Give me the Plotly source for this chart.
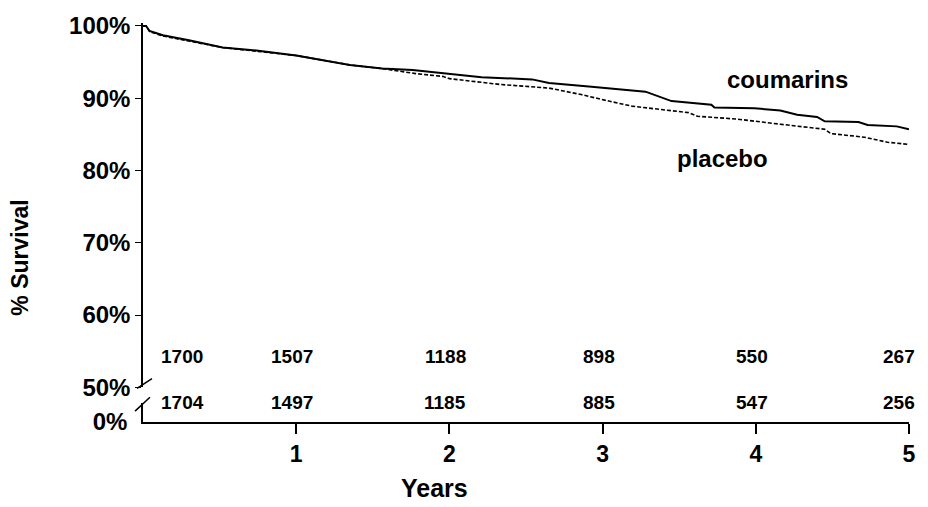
import plotly.graph_objects as go

# Kaplan-Meier survival estimates (years, % surviving)
coumarins_years = [0, 0.02, 0.043, 0.13, 0.30, 0.52, 0.74, 1.00, 1.35, 1.56, 1.76, 1.95,
                   2.21, 2.54, 2.65, 2.91, 3.02, 3.28, 3.45, 3.71, 3.73, 3.99, 4.16,
                   4.27, 4.40, 4.45, 4.67, 4.73, 4.92, 4.97, 5.00]
coumarins_surv = [100, 100, 99.3, 98.7, 98.0, 97.0, 96.6, 95.9, 94.6, 94.1, 93.9, 93.5,
                  92.9, 92.6, 92.1, 91.6, 91.4, 90.9, 89.6, 89.1, 88.7, 88.6, 88.3,
                  87.7, 87.4, 86.8, 86.7, 86.3, 86.1, 85.8, 85.7]

placebo_years = [0, 0.02, 0.043, 0.13, 0.30, 0.52, 0.74, 1.00, 1.35, 1.56, 1.78, 1.96,
                 2.00, 2.33, 2.65, 2.86, 3.02, 3.19, 3.56, 3.62, 3.88, 3.99, 4.16,
                 4.45, 4.49, 4.71, 4.86, 5.00]
placebo_surv = [100, 100, 99.2, 98.6, 97.9, 97.0, 96.5, 95.9, 94.6, 94.1, 93.4, 93.0,
                92.7, 91.9, 91.4, 90.5, 89.7, 88.9, 88.0, 87.5, 87.1, 86.8, 86.4,
                85.7, 85.1, 84.6, 83.9, 83.6]

# Numbers at risk at each yearly time point
risk_years = [0, 1, 2, 3, 4, 5]
at_risk_upper = [1700, 1507, 1188, 898, 550, 267]
at_risk_lower = [1704, 1497, 1185, 885, 547, 256]

y_ticks = [50, 60, 70, 80, 90, 100]
y_tick_text = ["50%", "60%", "70%", "80%", "90%", "100%"]
x_ticks = [1, 2, 3, 4, 5]

FONT = "Liberation Sans, Arial, Helvetica, sans-serif"

fig = go.Figure()
fig.add_trace(go.Scatter(
    x=coumarins_years, y=coumarins_surv, mode="lines", name="coumarins",
    line=dict(color="black", width=2), xaxis="x", yaxis="y",
))
fig.add_trace(go.Scatter(
    x=placebo_years, y=placebo_surv, mode="lines", name="placebo",
    line=dict(color="black", width=1.6, dash="4px,2px"), xaxis="x", yaxis="y",
))

# Broken-axis lower segment carrying only the 0% level
fig.add_trace(go.Scatter(x=[0], y=[0], mode="markers", marker=dict(opacity=0),
                         xaxis="x", yaxis="y2", hoverinfo="skip"))

annotations = []
for row_y, counts in ((0.163, at_risk_upper), (0.0495, at_risk_lower)):
    for i, (yr, n) in enumerate(zip(risk_years, counts)):
        shift = 39 if i == 0 else (-10 if i == len(risk_years) - 1 else -4)
        annotations.append(dict(x=yr, y=row_y, xref="x", yref="paper", text=f"<b>{n}</b>",
                                showarrow=False, xshift=shift, yanchor="middle",
                                font=dict(family=FONT, size=19, color="black")))

annotations += [
    dict(x=4.21, y=92.6, xref="x", yref="y", text="<b>coumarins</b>", showarrow=False,
         font=dict(family=FONT, size=24, color="black")),
    dict(x=3.78, y=81.6, xref="x", yref="y", text="<b>placebo</b>", showarrow=False,
         font=dict(family=FONT, size=24, color="black")),
    dict(x=-0.160, y=0.413, xref="paper", yref="paper", text="<b>% Survival</b>",
         showarrow=False, textangle=-90, xanchor="center", yanchor="middle",
         font=dict(family=FONT, size=23, color="black")),
    dict(x=0.380, y=-0.166, xref="paper", yref="paper", text="<b>Years</b>",
         showarrow=False, xanchor="center", yanchor="middle",
         font=dict(family=FONT, size=25, color="black")),
]

# Slashes marking the axis break between 0% and 50%
shapes = [
    dict(type="line", xref="paper", yref="paper", x0=-0.0078, y0=0.0842, x1=0.0117, y1=0.1089,
         line=dict(color="black", width=1.5)),
    dict(type="line", xref="paper", yref="paper", x0=-0.0104, y0=0.0272, x1=0.0091, y1=0.0619,
         line=dict(color="black", width=1.5)),
]

fig.update_layout(
    width=928, height=507,
    margin=dict(l=143, r=17, t=18, b=85),
    paper_bgcolor="white", plot_bgcolor="white",
    showlegend=False,
    font=dict(family=FONT, color="black"),
    xaxis=dict(
        range=[0, 5], anchor="y2", showgrid=False, zeroline=False,
        showline=True, linecolor="black", linewidth=1.5,
        tickvals=x_ticks, ticks="outside", ticklen=10, tickwidth=1.5, tickcolor="black",
        tickfont=dict(family=FONT, size=23, color="black", weight="bold"),
        ticklabelstandoff=1,
    ),
    yaxis=dict(
        domain=[0.0869, 1], range=[50, 100.4], anchor="x",
        showgrid=False, zeroline=False, showline=True, linecolor="black", linewidth=1.5,
        tickvals=y_ticks, ticktext=y_tick_text, ticks="outside", ticklen=6,
        tickwidth=1.2, tickcolor="black", ticklabelstandoff=0,
        tickfont=dict(family=FONT, size=24, color="black", weight="bold"),
    ),
    yaxis2=dict(
        domain=[0, 0.047], range=[0, 5], anchor="x",
        showgrid=False, zeroline=False, showline=True, linecolor="black", linewidth=1.5,
        tickvals=[0], ticktext=["0%"], ticks="", ticklabelstandoff=9,
        tickfont=dict(family=FONT, size=24, color="black", weight="bold"),
    ),
    annotations=annotations,
    shapes=shapes,
)

fig.write_html("out.html")
